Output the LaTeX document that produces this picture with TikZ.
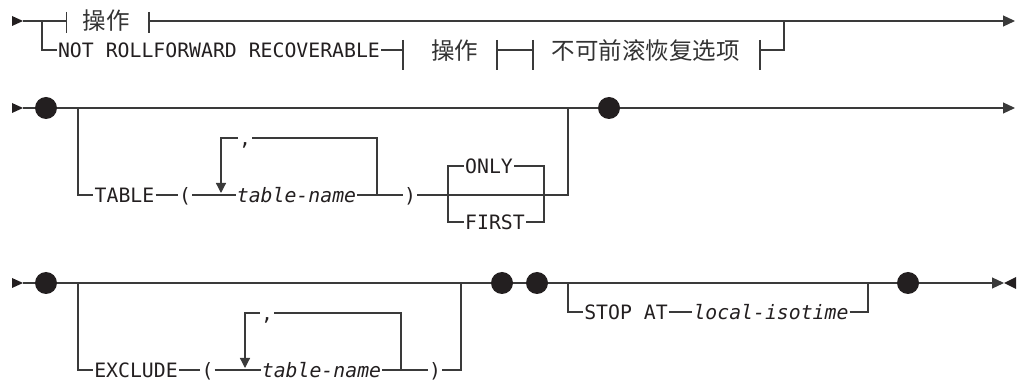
\documentclass[tikz,border=0pt]{standalone}
\usepackage{fontspec}
\setmonofont{DejaVu Sans Mono}
\newfontfamily\cjk{Noto Sans CJK SC}
\usepackage{xcolor}
\usepackage{tikz}
\usetikzlibrary{arrows.meta,positioning,calc}
\definecolor{railgray}{HTML}{3A3A3A}
\definecolor{ink}{HTML}{231F20}
\tikzstyle{kw}     = [inner sep=1pt, text height=14.4pt, text depth=0pt,
                      font=\fontsize{19.8}{20}\selectfont\ttfamily, text=ink]
\tikzstyle{var}    = [kw, font=\fontsize{19.8}{20}\selectfont\ttfamily\itshape]
\tikzstyle{frag}   = [inner sep=1pt, font=\fontsize{23.5}{24}\selectfont\cjk,
                      text=black!80]
\tikzstyle{dot}    = [circle, fill=ink, inner sep=0pt, minimum size=22pt]
\tikzstyle{rail}   = [draw=railgray, line width=1.2pt]
\tikzstyle{rarrow} = [rail, -{Triangle[length=12pt,width=11pt]}]
\tikzstyle{loopar} = [rail, -{Triangle[length=10pt,width=10pt]}]

\begin{document}
\begin{tikzpicture}[x=1pt,y=-1pt]
\useasboundingbox (0,0) rectangle (1021,387);
% start marks
\foreach \y in {21,108,283}
  \fill[ink] (12,{\y-5}) -- (23,\y) -- (12,{\y+5}) -- cycle;
% Row 1: operation / not rollforward recoverable
\coordinate (a0) at (23,21);
\coordinate (a1) at (42,21);
\coordinate (a2) at (784,21);
\coordinate (a3) at (1015,21);
\coordinate (b1l) at (66.5,21);
\coordinate (b1r) at (149,21);
\node[frag] (op1) at (106,21) {操作};
\draw[rail] (a0) -- (b1l);
\draw[rail] ([yshift=9pt]b1l) -- ([yshift=-12pt]b1l);
\draw[rail] ([yshift=9pt]b1r) -- ([yshift=-12pt]b1r);
\draw[rarrow] (b1r) -- (a3);
\node[kw] (nrr) at (219,50) {NOT ROLLFORWARD RECOVERABLE};
\coordinate (b2l) at (403,50);
\coordinate (b2r) at (497,50);
\coordinate (b3l) at (533,50);
\coordinate (b3r) at (760,50);
\node[frag] (op2) at (454.5,51) {操作};
\node[frag] (nrro) at (645.5,51) {不可前滚恢复选项};
\draw[rail] (a1) |- (nrr);
\draw[rail] (nrr) -- (b2l);
\draw[rail] (b2r) -- (b3l);
\draw[rail] (b3r) -| (a2);
\foreach \b in {b2l,b2r,b3l,b3r}
  \draw[rail] ([yshift=10pt]\b) -- ([yshift=-20pt]\b);
% Row 2: table
\coordinate (c0) at (23,108);
\coordinate (c1) at (78,108);
\coordinate (c2) at (568,108);
\coordinate (c3) at (1015,108);
\node[dot] (d1) at (46,108) {};
\node[dot] (d2) at (609,108) {};
\draw[rail] (c0) -- (d1);
\draw[rail] (d1) -- (d2);
\draw[rarrow] (d2) -- (c3);
\node[kw] (tab) at (124.5,195) {TABLE};
\node[kw] (lp1) at (185,195) {(};
\node[var] (tn1) at (296.5,195) {table-name};
\node[kw] (rp1) at (410,195) {)};
\node[kw] (cm1) at (245,138) {,};
\coordinate (l1l) at (221,195);
\coordinate (l1r) at (377,195);
\coordinate (t1) at (568,195);
\draw[rail] (c1) |- (tab);
\draw[rail] (tab) -- (lp1);
\draw[rail] (lp1) -- (tn1);
\draw[rail] (tn1) -- (rp1);
\draw[rail] (l1r) |- (cm1.east);
\draw[loopar] (cm1.west) -| ([yshift=2pt]l1l);
\draw[rail] (rp1) -- (t1) -- (c2);
\node[kw] (only) at (489,166) {ONLY};
\node[kw] (first) at (495,222) {FIRST};
\coordinate (ch1l) at (448,195);
\coordinate (ch1r) at (544,195);
\draw[rail] (only.west) -| (ch1l |- first) -- (first.west);
\draw[rail] (only.east) -| (ch1r |- first) -- (first.east);
% Row 3: exclude / stop at
\coordinate (f0) at (23,283);
\coordinate (f1) at (78,283);
\coordinate (f2) at (461,283);
\node[dot] (e1) at (46,283) {};
\node[dot] (e2) at (502,283) {};
\node[dot] (e3) at (537,283) {};
\node[dot] (e4) at (908,283) {};
\draw[rail] (f0) -- (e1);
\draw[rail] (e1) -- (e2);
\draw[rail] (e2) -- (e3);
\draw[rail] (e3) -- (e4);
\node[kw] (exc) at (136,370) {EXCLUDE};
\node[kw] (lp2) at (207.5,370) {(};
\node[var] (tn2) at (321.5,370) {table-name};
\node[kw] (rp2) at (435,370) {)};
\node[kw] (cm2) at (267,313) {,};
\coordinate (l2l) at (245,370);
\coordinate (l2r) at (401,370);
\draw[rail] (f1) |- (exc);
\draw[rail] (exc) -- (lp2);
\draw[rail] (lp2) -- (tn2);
\draw[rail] (tn2) -- (rp2);
\draw[rail] (rp2) -| (f2);
\draw[rail] (l2r) |- (cm2.east);
\draw[loopar] (cm2.west) -| ([yshift=2pt]l2l);
\coordinate (g1) at (568,283);
\coordinate (g2) at (868,283);
\coordinate (g3) at (1004,283);
\node[kw] (stop) at (626,312) {STOP AT};
\node[var] (lit) at (771,312) {local-isotime};
\draw[rail] (g1) |- (stop);
\draw[rail] (stop) -- (lit);
\draw[rail] (lit) -| (g2);
\draw[rarrow] (e4) -- (g3);
\fill[ink] (1016,277) -- (g3) -- (1016,289) -- cycle;
\end{tikzpicture}
\end{document}
